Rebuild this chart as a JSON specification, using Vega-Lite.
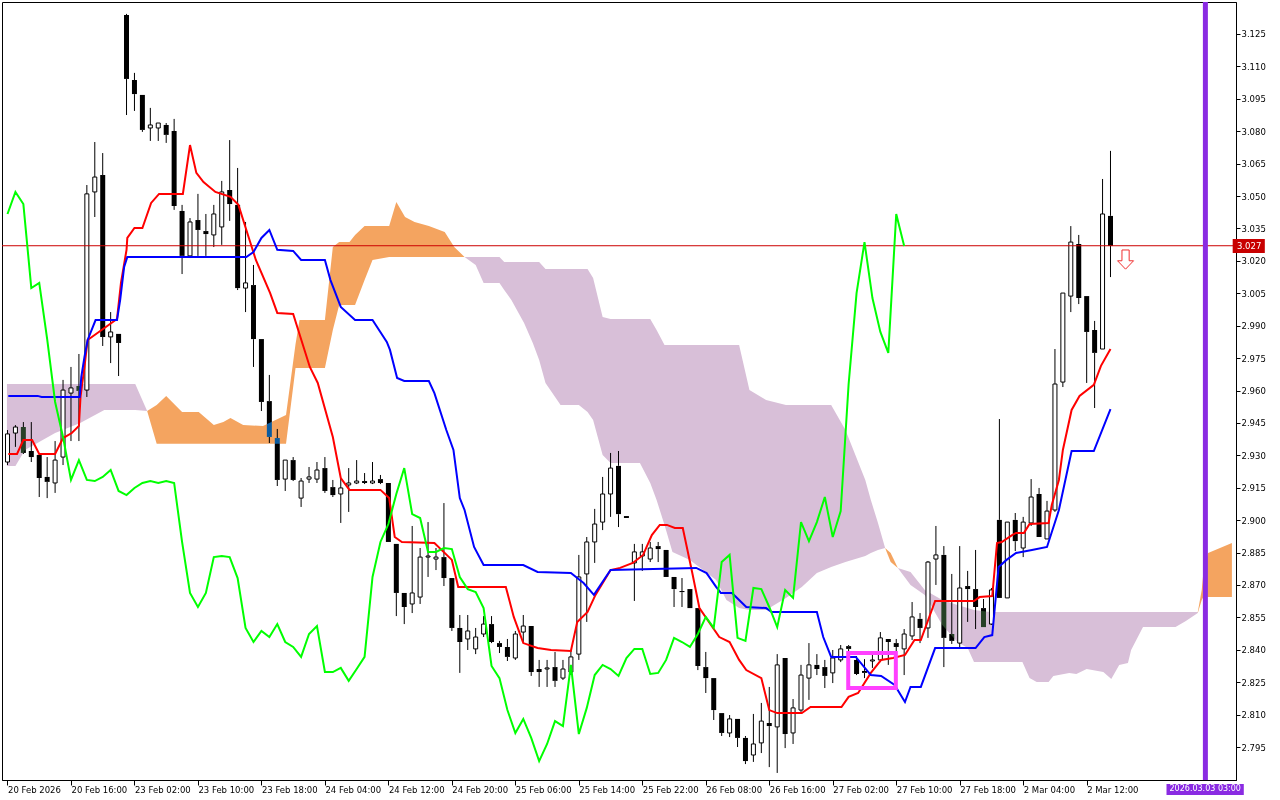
{
"$schema":"https://vega.github.io/schema/vega-lite/v6.json",
"width":1234,"height":778,
"autosize":{"type":"none"},
"padding":{"left":2,"top":2,"right":44,"bottom":20},
"background":"white",
"config":{"view":{"stroke":"#000000","fill":"#FFFFFF","strokeWidth":1},"font":"DejaVu Sans","axis":{"labelOverlap":false,"labelFlush":false,"labelBound":false,"grid":false}},
"datasets":{
"candles":[
{"k":0,"o":2.9269,"h":2.9417,"l":2.9255,"c":2.9399,"ch":3.0417},
{"k":1,"o":2.9403,"h":2.9440,"l":2.9339,"c":2.9431,"ch":3.0519},
{"k":2,"o":2.9431,"h":2.9454,"l":2.9306,"c":2.9311,"ch":3.0463},
{"k":3,"o":2.9320,"h":2.9454,"l":2.9269,"c":2.9292,"ch":3.0074},
{"k":4,"o":2.9302,"h":2.9302,"l":2.9107,"c":2.9195,"ch":3.0098},
{"k":5,"o":2.9200,"h":2.9292,"l":2.9102,"c":2.9177,"ch":2.9838},
{"k":6,"o":2.9172,"h":2.9366,"l":2.9126,"c":2.9278,"ch":2.9547},
{"k":7,"o":2.9292,"h":2.9649,"l":2.9255,"c":2.9602,"ch":2.9385},
{"k":8,"o":2.9588,"h":2.9709,"l":2.9366,"c":2.9612,"ch":2.9186},
{"k":9,"o":2.9621,"h":2.9769,"l":2.9366,"c":2.9598,"ch":2.9278},
{"k":10,"o":2.9602,"h":3.0551,"l":2.9570,"c":3.0510,"ch":2.9186},
{"k":11,"o":3.0519,"h":3.0750,"l":3.0403,"c":3.0588,"ch":2.9181},
{"k":12,"o":3.0597,"h":3.0699,"l":2.9806,"c":2.9848,"ch":2.9200},
{"k":13,"o":2.9848,"h":2.9963,"l":2.9727,"c":2.9871,"ch":2.9232},
{"k":14,"o":2.9862,"h":2.9862,"l":2.9667,"c":2.9820,"ch":2.9135},
{"k":15,"o":3.1338,"h":3.1343,"l":3.0875,"c":3.1042,"ch":2.9116},
{"k":16,"o":3.1037,"h":3.1070,"l":3.0894,"c":3.0972,"ch":2.9149},
{"k":17,"o":3.0968,"h":3.0968,"l":3.0797,"c":3.0806,"ch":2.9172},
{"k":18,"o":3.0815,"h":3.0908,"l":3.0755,"c":3.0829,"ch":2.9181},
{"k":19,"o":3.0815,"h":3.0838,"l":3.0755,"c":3.0838,"ch":2.9172},
{"k":20,"o":3.0829,"h":3.0838,"l":3.0746,"c":3.0783,"ch":2.9181},
{"k":21,"o":3.0801,"h":3.0857,"l":3.0436,"c":3.0454,"ch":2.9172},
{"k":22,"o":3.0431,"h":3.0459,"l":3.0139,"c":3.0223,"ch":2.8899},
{"k":23,"o":3.0223,"h":3.0398,"l":3.0213,"c":3.0380,"ch":2.8663},
{"k":24,"o":3.0389,"h":3.0510,"l":3.0223,"c":3.0343,"ch":2.8598},
{"k":25,"o":3.0338,"h":3.0417,"l":3.0223,"c":3.0324,"ch":2.8663},
{"k":26,"o":3.0320,"h":3.0459,"l":3.0264,"c":3.0417,"ch":2.8829},
{"k":27,"o":3.0357,"h":3.0570,"l":3.0274,"c":3.0519,"ch":2.8834},
{"k":28,"o":3.0528,"h":3.0759,"l":3.0385,"c":3.0463,"ch":2.8829},
{"k":29,"o":3.0459,"h":3.0630,"l":3.0065,"c":3.0074,"ch":2.8732},
{"k":30,"o":3.0074,"h":3.0380,"l":2.9963,"c":3.0098,"ch":2.8501},
{"k":31,"o":3.0088,"h":3.0181,"l":2.9709,"c":2.9838,"ch":2.8436},
{"k":32,"o":2.9838,"h":2.9838,"l":2.9505,"c":2.9547,"ch":2.8487},
{"k":33,"o":2.9551,"h":2.9672,"l":2.9357,"c":2.9385,"ch":2.8459},
{"k":34,"o":2.9380,"h":2.9422,"l":2.9158,"c":2.9186,"ch":2.8519},
{"k":35,"o":2.9190,"h":2.9278,"l":2.9135,"c":2.9278,"ch":2.8436},
{"k":36,"o":2.9278,"h":2.9292,"l":2.9181,"c":2.9186,"ch":2.8413},
{"k":37,"o":2.9102,"h":2.9195,"l":2.9061,"c":2.9181,"ch":2.8367},
{"k":38,"o":2.9190,"h":2.9246,"l":2.9172,"c":2.9200,"ch":2.8473},
{"k":39,"o":2.9190,"h":2.9269,"l":2.9172,"c":2.9232,"ch":2.8510},
{"k":40,"o":2.9241,"h":2.9292,"l":2.9126,"c":2.9135,"ch":2.8297},
{"k":41,"o":2.9153,"h":2.9186,"l":2.9107,"c":2.9116,"ch":2.8297},
{"k":42,"o":2.9121,"h":2.9195,"l":2.8987,"c":2.9149,"ch":2.8316},
{"k":43,"o":2.9163,"h":2.9241,"l":2.9038,"c":2.9172,"ch":2.8256},
{"k":44,"o":2.9172,"h":2.9278,"l":2.9167,"c":2.9181,"ch":2.8311},
{"k":45,"o":2.9181,"h":2.9218,"l":2.9167,"c":2.9172,"ch":2.8367},
{"k":46,"o":2.9172,"h":2.9269,"l":2.9167,"c":2.9181,"ch":2.8737},
{"k":47,"o":2.9190,"h":2.9209,"l":2.9167,"c":2.9172,"ch":2.8899},
{"k":48,"o":2.9172,"h":2.9172,"l":2.8899,"c":2.8899,"ch":2.8982},
{"k":49,"o":2.8890,"h":2.8890,"l":2.8556,"c":2.8663,"ch":2.9121},
{"k":50,"o":2.8663,"h":2.8663,"l":2.8519,"c":2.8598,"ch":2.9241},
{"k":51,"o":2.8612,"h":2.8973,"l":2.8570,"c":2.8663,"ch":2.9028},
{"k":52,"o":2.8644,"h":2.8871,"l":2.8612,"c":2.8829,"ch":2.9010},
{"k":53,"o":2.8829,"h":2.8991,"l":2.8737,"c":2.8834,"ch":2.8853},
{"k":54,"o":2.8820,"h":2.8871,"l":2.8769,"c":2.8829,"ch":2.8853},
{"k":55,"o":2.8829,"h":2.9079,"l":2.8695,"c":2.8732,"ch":2.8871},
{"k":56,"o":2.8732,"h":2.8732,"l":2.8487,"c":2.8501,"ch":2.8866},
{"k":57,"o":2.8501,"h":2.8561,"l":2.8293,"c":2.8436,"ch":2.8737},
{"k":58,"o":2.8450,"h":2.8561,"l":2.8399,"c":2.8487,"ch":2.8681},
{"k":59,"o":2.8404,"h":2.8501,"l":2.8380,"c":2.8459,"ch":2.8667},
{"k":60,"o":2.8473,"h":2.8556,"l":2.8459,"c":2.8519,"ch":2.8593},
{"k":61,"o":2.8519,"h":2.8556,"l":2.8431,"c":2.8436,"ch":2.8325},
{"k":62,"o":2.8431,"h":2.8441,"l":2.8385,"c":2.8413,"ch":2.8269},
{"k":63,"o":2.8413,"h":2.8450,"l":2.8348,"c":2.8367,"ch":2.8121},
{"k":64,"o":2.8362,"h":2.8487,"l":2.8353,"c":2.8473,"ch":2.8015},
{"k":65,"o":2.8482,"h":2.8561,"l":2.8436,"c":2.8510,"ch":2.8080},
{"k":66,"o":2.8510,"h":2.8510,"l":2.8279,"c":2.8297,"ch":2.7992},
{"k":67,"o":2.8311,"h":2.8353,"l":2.8228,"c":2.8297,"ch":2.7885},
{"k":68,"o":2.8311,"h":2.8353,"l":2.8228,"c":2.8316,"ch":2.7964},
{"k":69,"o":2.8320,"h":2.8390,"l":2.8228,"c":2.8256,"ch":2.8070},
{"k":70,"o":2.8269,"h":2.8353,"l":2.8260,"c":2.8311,"ch":2.8047},
{"k":71,"o":2.8297,"h":2.8399,"l":2.8283,"c":2.8367,"ch":2.8330},
{"k":72,"o":2.8380,"h":2.8839,"l":2.8353,"c":2.8737,"ch":2.8010},
{"k":73,"o":2.8751,"h":2.8922,"l":2.8529,"c":2.8899,"ch":2.8131},
{"k":74,"o":2.8899,"h":2.9052,"l":2.8802,"c":2.8982,"ch":2.8283},
{"k":75,"o":2.8991,"h":2.9200,"l":2.8954,"c":2.9121,"ch":2.8330},
{"k":76,"o":2.9121,"h":2.9311,"l":2.9015,"c":2.9241,"ch":2.8311},
{"k":77,"o":2.9251,"h":2.9320,"l":2.8968,"c":2.9028,"ch":2.8279},
{"k":78,"o":2.9019,"h":2.9019,"l":2.9010,"c":2.9010,"ch":2.8362},
{"k":79,"o":2.8802,"h":2.8890,"l":2.8626,"c":2.8853,"ch":2.8404},
{"k":80,"o":2.8834,"h":2.8890,"l":2.8765,"c":2.8853,"ch":2.8404},
{"k":81,"o":2.8820,"h":2.8899,"l":2.8806,"c":2.8871,"ch":2.8288},
{"k":82,"o":2.8880,"h":2.8899,"l":2.8806,"c":2.8866,"ch":2.8293},
{"k":83,"o":2.8862,"h":2.8862,"l":2.8737,"c":2.8737,"ch":2.8353},
{"k":84,"o":2.8737,"h":2.8737,"l":2.8598,"c":2.8681,"ch":2.8455},
{"k":85,"o":2.8672,"h":2.8732,"l":2.8598,"c":2.8667,"ch":2.8436},
{"k":86,"o":2.8681,"h":2.8681,"l":2.8593,"c":2.8593,"ch":2.8413},
{"k":87,"o":2.8593,"h":2.8593,"l":2.8306,"c":2.8325,"ch":2.8473},
{"k":88,"o":2.8320,"h":2.8390,"l":2.8200,"c":2.8269,"ch":2.8552},
{"k":89,"o":2.8269,"h":2.8269,"l":2.8075,"c":2.8121,"ch":2.8501},
{"k":90,"o":2.8107,"h":2.8107,"l":2.8001,"c":2.8015,"ch":2.8806},
{"k":91,"o":2.8015,"h":2.8098,"l":2.7996,"c":2.8080,"ch":2.8839},
{"k":92,"o":2.8080,"h":2.8080,"l":2.7950,"c":2.7992,"ch":2.8455},
{"k":93,"o":2.7992,"h":2.8001,"l":2.7871,"c":2.7885,"ch":2.8441},
{"k":94,"o":2.7913,"h":2.8103,"l":2.7881,"c":2.7964,"ch":2.8686},
{"k":95,"o":2.7969,"h":2.8154,"l":2.7922,"c":2.8070,"ch":2.8681},
{"k":96,"o":2.8061,"h":2.8228,"l":2.7857,"c":2.8047,"ch":2.8598},
{"k":97,"o":2.8043,"h":2.8380,"l":2.7830,"c":2.8330,"ch":2.8505},
{"k":98,"o":2.8362,"h":2.8362,"l":2.7945,"c":2.8010,"ch":2.8677},
{"k":99,"o":2.8015,"h":2.8172,"l":2.7964,"c":2.8131,"ch":2.8640},
{"k":100,"o":2.8121,"h":2.8330,"l":2.8112,"c":2.8283,"ch":2.8991},
{"k":101,"o":2.8269,"h":2.8431,"l":2.8168,"c":2.8330,"ch":2.8903},
{"k":102,"o":2.8330,"h":2.8380,"l":2.8283,"c":2.8311,"ch":2.8991},
{"k":103,"o":2.8320,"h":2.8353,"l":2.8223,"c":2.8279,"ch":2.9107},
{"k":104,"o":2.8293,"h":2.8399,"l":2.8246,"c":2.8362,"ch":2.8922},
{"k":105,"o":2.8353,"h":2.8422,"l":2.8343,"c":2.8404,"ch":2.9042},
{"k":106,"o":2.8417,"h":2.8422,"l":2.8390,"c":2.8404,"ch":2.9630},
{"k":107,"o":2.8353,"h":2.8371,"l":2.8283,"c":2.8288,"ch":3.0051},
{"k":108,"o":2.8302,"h":2.8357,"l":2.8269,"c":2.8293,"ch":3.0287},
{"k":109,"o":2.8348,"h":2.8376,"l":2.8316,"c":2.8353,"ch":3.0028},
{"k":110,"o":2.8353,"h":2.8482,"l":2.8343,"c":2.8455,"ch":2.9871},
{"k":111,"o":2.8450,"h":2.8450,"l":2.8330,"c":2.8436,"ch":2.9774},
{"k":112,"o":2.8431,"h":2.8450,"l":2.8367,"c":2.8413,"ch":3.0417},
{"k":113,"o":2.8404,"h":2.8496,"l":2.8283,"c":2.8473,"ch":3.0269},
{"k":114,"o":2.8464,"h":2.8621,"l":2.8445,"c":2.8552},
{"k":115,"o":2.8543,"h":2.8570,"l":2.8431,"c":2.8501},
{"k":116,"o":2.8501,"h":2.8811,"l":2.8455,"c":2.8806},
{"k":117,"o":2.8820,"h":2.8973,"l":2.8700,"c":2.8839},
{"k":118,"o":2.8839,"h":2.8880,"l":2.8320,"c":2.8455},
{"k":119,"o":2.8473,"h":2.8751,"l":2.8427,"c":2.8441},
{"k":120,"o":2.8431,"h":2.8880,"l":2.8408,"c":2.8686},
{"k":121,"o":2.8695,"h":2.8765,"l":2.8529,"c":2.8681},
{"k":122,"o":2.8681,"h":2.8862,"l":2.8496,"c":2.8598},
{"k":123,"o":2.8593,"h":2.8635,"l":2.8505,"c":2.8505},
{"k":124,"o":2.8519,"h":2.8686,"l":2.8515,"c":2.8677},
{"k":125,"o":2.9001,"h":2.9468,"l":2.8640,"c":2.8640},
{"k":126,"o":2.8640,"h":2.8991,"l":2.8640,"c":2.8991},
{"k":127,"o":2.9001,"h":2.9033,"l":2.8857,"c":2.8903},
{"k":128,"o":2.8871,"h":2.9015,"l":2.8829,"c":2.8991},
{"k":129,"o":2.8987,"h":2.9190,"l":2.8973,"c":2.9107},
{"k":130,"o":2.9121,"h":2.9149,"l":2.8922,"c":2.8922},
{"k":131,"o":2.8913,"h":2.9089,"l":2.8913,"c":2.9042},
{"k":132,"o":2.9047,"h":2.9792,"l":2.9038,"c":2.9630},
{"k":133,"o":2.9639,"h":3.0051,"l":2.9616,"c":3.0051},
{"k":134,"o":3.0037,"h":3.0361,"l":2.9963,"c":3.0287},
{"k":135,"o":3.0278,"h":3.0320,"l":3.0000,"c":3.0028},
{"k":136,"o":3.0037,"h":3.0037,"l":2.9635,"c":2.9871},
{"k":137,"o":2.9880,"h":2.9922,"l":2.9519,"c":2.9774},
{"k":138,"o":2.9792,"h":3.0579,"l":2.9792,"c":3.0417},
{"k":139,"o":3.0408,"h":3.0709,"l":3.0125,"c":3.0269}
],
"tenkan":[
{"k":0.1,"v":2.9306},{"k":1.2,"v":2.9306},{"k":2.0,"v":2.9371},{"k":3.1,"v":2.9371},{"k":4.0,"v":2.9306},{"k":6.0,"v":2.9306},{"k":7.0,"v":2.9380},{"k":8.1,"v":2.9403},{"k":9.0,"v":2.9436},{"k":9.2,"v":2.9570},{"k":9.7,"v":2.9709},{"k":10.1,"v":2.9834},{"k":13.8,"v":2.9931},{"k":14.3,"v":3.0098},{"k":15.0,"v":3.0251},{"k":15.1,"v":3.0306},{"k":16.0,"v":3.0352},{"k":17.0,"v":3.0352},{"k":18.1,"v":3.0468},{"k":19.1,"v":3.0510},{"k":22.1,"v":3.0510},{"k":23.0,"v":3.0736},{"k":23.8,"v":3.0607},{"k":24.7,"v":3.0565},{"k":26.2,"v":3.0519},{"k":28.1,"v":3.0496},{"k":29.1,"v":3.0459},{"k":30.1,"v":3.0343},{"k":31.3,"v":3.0204},{"k":33.1,"v":3.0051},{"k":34.0,"v":2.9959},{"k":36.0,"v":2.9954},{"k":38.1,"v":2.9709},{"k":39.1,"v":2.9635},{"k":41.0,"v":2.9385},{"k":42.0,"v":2.9195},{"k":43.1,"v":2.9140},{"k":47.0,"v":2.9140},{"k":48.1,"v":2.9102},{"k":48.8,"v":2.8922},{"k":49.7,"v":2.8899},{"k":53.8,"v":2.8894},{"k":56.0,"v":2.8816},{"k":56.8,"v":2.8691},{"k":62.8,"v":2.8691},{"k":63.8,"v":2.8552},{"k":65.0,"v":2.8431},{"k":66.8,"v":2.8408},{"k":68.5,"v":2.8399},{"k":71.0,"v":2.8394},{"k":71.8,"v":2.8529},{"k":73.1,"v":2.8575},{"k":74.1,"v":2.8654},{"k":76.0,"v":2.8769},{"k":77.2,"v":2.8779},{"k":78.8,"v":2.8802},{"k":80.1,"v":2.8839},{"k":81.2,"v":2.8931},{"k":82.2,"v":2.8978},{"k":83.1,"v":2.8978},{"k":84.1,"v":2.8964},{"k":85.1,"v":2.8964},{"k":86.3,"v":2.8755},{"k":87.2,"v":2.8593},{"k":89.7,"v":2.8459},{"k":91.0,"v":2.8436},{"k":92.2,"v":2.8353},{"k":93.1,"v":2.8306},{"k":95.0,"v":2.8269},{"k":96.0,"v":2.8121},{"k":97.0,"v":2.8107},{"k":100.1,"v":2.8107},{"k":101.2,"v":2.8135},{"k":105.1,"v":2.8135},{"k":106.0,"v":2.8182},{"k":107.2,"v":2.8200},{"k":108.8,"v":2.8293},{"k":110.1,"v":2.8353},{"k":111.6,"v":2.8362},{"k":113.1,"v":2.8376},{"k":114.3,"v":2.8445},{"k":115.1,"v":2.8445},{"k":116.9,"v":2.8626},{"k":121.8,"v":2.8626},{"k":122.5,"v":2.8644},{"k":124.1,"v":2.8649},{"k":124.7,"v":2.8894},{"k":125.3,"v":2.8899},{"k":126.6,"v":2.8931},{"k":127.1,"v":2.8941},{"k":128.1,"v":2.8941},{"k":128.8,"v":2.8982},{"k":131.2,"v":2.8987},{"k":131.6,"v":2.9070},{"k":132.5,"v":2.9186},{"k":133.0,"v":2.9325},{"k":134.1,"v":2.9510},{"k":135.1,"v":2.9575},{"k":136.9,"v":2.9626},{"k":137.8,"v":2.9714},{"k":139.0,"v":2.9792}
],
"kijun":[
{"k":0.1,"v":2.9575},{"k":3.8,"v":2.9575},{"k":4.3,"v":2.9570},{"k":9.1,"v":2.9570},{"k":9.3,"v":2.9663},{"k":9.7,"v":2.9755},{"k":10.1,"v":2.9834},{"k":11.1,"v":2.9926},{"k":13.8,"v":2.9926},{"k":14.2,"v":3.0019},{"k":14.7,"v":3.0172},{"k":15.1,"v":3.0218},{"k":30.1,"v":3.0218},{"k":31.0,"v":3.0241},{"k":32.0,"v":3.0306},{"k":33.0,"v":3.0343},{"k":34.0,"v":3.0251},{"k":36.0,"v":3.0246},{"k":37.0,"v":3.0204},{"k":40.0,"v":3.0204},{"k":40.7,"v":3.0111},{"k":42.0,"v":2.9987},{"k":43.8,"v":2.9926},{"k":46.0,"v":2.9926},{"k":47.8,"v":2.9825},{"k":48.2,"v":2.9788},{"k":49.1,"v":2.9658},{"k":50.0,"v":2.9644},{"k":53.1,"v":2.9644},{"k":53.8,"v":2.9588},{"k":55.3,"v":2.9417},{"k":56.2,"v":2.9325},{"k":57.0,"v":2.9102},{"k":57.6,"v":2.9047},{"k":58.8,"v":2.8876},{"k":60.0,"v":2.8792},{"k":65.0,"v":2.8792},{"k":66.8,"v":2.8760},{"k":71.0,"v":2.8755},{"k":72.6,"v":2.8709},{"k":73.9,"v":2.8654},{"k":76.0,"v":2.8769},{"k":86.8,"v":2.8779},{"k":88.1,"v":2.8755},{"k":89.3,"v":2.8691},{"k":89.9,"v":2.8663},{"k":91.3,"v":2.8663},{"k":93.1,"v":2.8598},{"k":95.6,"v":2.8593},{"k":96.3,"v":2.8575},{"k":102.0,"v":2.8575},{"k":102.8,"v":2.8459},{"k":103.8,"v":2.8367},{"k":106.9,"v":2.8367},{"k":108.8,"v":2.8283},{"k":110.1,"v":2.8279},{"k":111.8,"v":2.8237},{"k":113.1,"v":2.8158},{"k":113.8,"v":2.8228},{"k":115.1,"v":2.8228},{"k":116.9,"v":2.8408},{"k":122.0,"v":2.8408},{"k":123.1,"v":2.8459},{"k":124.1,"v":2.8468},{"k":124.9,"v":2.8783},{"k":125.9,"v":2.8816},{"k":127.1,"v":2.8848},{"k":129.1,"v":2.8862},{"k":131.0,"v":2.8876},{"k":132.5,"v":2.9047},{"k":134.1,"v":2.9320},{"k":136.9,"v":2.9320},{"k":139.0,"v":2.9514}
],
"cloud":[
{"s":"P1","c":"B","k":-0.07,"t":2.9630,"b":2.9251},{"s":"P1","c":"B","k":1.0,"t":2.9630,"b":2.9251},{"s":"P1","c":"B","k":2.2,"t":2.9630,"b":2.9325},{"s":"P1","c":"B","k":6.0,"t":2.9630,"b":2.9403},{"s":"P1","c":"B","k":9.1,"t":2.9630,"b":2.9449},{"s":"P1","c":"B","k":12.2,"t":2.9630,"b":2.9510},{"s":"P1","c":"B","k":16.1,"t":2.9630,"b":2.9510},{"s":"P1","c":"B","k":17.6,"t":2.9505,"b":2.9505},
{"s":"O1","c":"A","k":17.6,"t":2.9505,"b":2.9505},{"s":"O1","c":"A","k":18.8,"t":2.9533,"b":2.9353},{"s":"O1","c":"A","k":20.0,"t":2.9575,"b":2.9353},{"s":"O1","c":"A","k":22.0,"t":2.9500,"b":2.9353},{"s":"O1","c":"A","k":24.1,"t":2.9500,"b":2.9353},{"s":"O1","c":"A","k":26.0,"t":2.9440,"b":2.9353},{"s":"O1","c":"A","k":27.2,"t":2.9454,"b":2.9353},{"s":"O1","c":"A","k":28.1,"t":2.9473,"b":2.9353},{"s":"O1","c":"A","k":29.7,"t":2.9440,"b":2.9353},{"s":"O1","c":"A","k":32.2,"t":2.9436,"b":2.9353},{"s":"O1","c":"A","k":35.1,"t":2.9487,"b":2.9353},{"s":"O1","c":"A","k":36.3,"t":2.9815,"b":2.9704},{"s":"O1","c":"A","k":36.8,"t":2.9926,"b":2.9704},{"s":"O1","c":"A","k":40.0,"t":2.9926,"b":2.9704},{"s":"O1","c":"A","k":41.0,"t":3.0264,"b":2.9880},{"s":"O1","c":"A","k":41.8,"t":3.0287,"b":2.9996},{"s":"O1","c":"A","k":43.1,"t":3.0287,"b":2.9996},{"s":"O1","c":"A","k":43.8,"t":3.0320,"b":2.9996},{"s":"O1","c":"A","k":45.0,"t":3.0361,"b":3.0111},{"s":"O1","c":"A","k":46.0,"t":3.0361,"b":3.0204},{"s":"O1","c":"A","k":48.1,"t":3.0361,"b":3.0218},{"s":"O1","c":"A","k":49.0,"t":3.0472,"b":3.0218},{"s":"O1","c":"A","k":50.1,"t":3.0403,"b":3.0218},{"s":"O1","c":"A","k":51.3,"t":3.0380,"b":3.0218},{"s":"O1","c":"A","k":53.1,"t":3.0361,"b":3.0218},{"s":"O1","c":"A","k":55.1,"t":3.0334,"b":3.0218},{"s":"O1","c":"A","k":56.3,"t":3.0264,"b":3.0218},{"s":"O1","c":"A","k":57.6,"t":3.0218,"b":3.0218},
{"s":"P2","c":"B","k":57.6,"t":3.0218,"b":3.0218},{"s":"P2","c":"B","k":59.0,"t":3.0218,"b":3.0181},{"s":"P2","c":"B","k":60.0,"t":3.0218,"b":3.0098},{"s":"P2","c":"B","k":62.0,"t":3.0218,"b":3.0098},{"s":"P2","c":"B","k":62.6,"t":3.0195,"b":3.0065},{"s":"P2","c":"B","k":63.5,"t":3.0195,"b":3.0019},{"s":"P2","c":"B","k":65.1,"t":3.0195,"b":2.9912},{"s":"P2","c":"B","k":66.2,"t":3.0195,"b":2.9820},{"s":"P2","c":"B","k":67.0,"t":3.0195,"b":2.9741},{"s":"P2","c":"B","k":67.8,"t":3.0162,"b":2.9635},{"s":"P2","c":"B","k":69.7,"t":3.0162,"b":2.9533},{"s":"P2","c":"B","k":72.0,"t":3.0162,"b":2.9533},{"s":"P2","c":"B","k":73.1,"t":3.0162,"b":2.9500},{"s":"P2","c":"B","k":73.8,"t":3.0121,"b":2.9463},{"s":"P2","c":"B","k":75.0,"t":2.9940,"b":2.9302},{"s":"P2","c":"B","k":76.0,"t":2.9931,"b":2.9264},{"s":"P2","c":"B","k":79.7,"t":2.9931,"b":2.9264},{"s":"P2","c":"B","k":81.0,"t":2.9931,"b":2.9172},{"s":"P2","c":"B","k":81.8,"t":2.9880,"b":2.9093},{"s":"P2","c":"B","k":82.8,"t":2.9811,"b":2.8978},{"s":"P2","c":"B","k":83.8,"t":2.9811,"b":2.8853},{"s":"P2","c":"B","k":86.0,"t":2.9811,"b":2.8816},{"s":"P2","c":"B","k":89.3,"t":2.9811,"b":2.8723},{"s":"P2","c":"B","k":90.6,"t":2.9811,"b":2.8630},{"s":"P2","c":"B","k":92.2,"t":2.9811,"b":2.8593},{"s":"P2","c":"B","k":93.5,"t":2.9602,"b":2.8584},{"s":"P2","c":"B","k":95.6,"t":2.9556,"b":2.8584},{"s":"P2","c":"B","k":98.1,"t":2.9533,"b":2.8640},{"s":"P2","c":"B","k":100.1,"t":2.9533,"b":2.8691},{"s":"P2","c":"B","k":102.0,"t":2.9533,"b":2.8755},{"s":"P2","c":"B","k":103.8,"t":2.9533,"b":2.8783},{"s":"P2","c":"B","k":105.6,"t":2.9417,"b":2.8806},{"s":"P2","c":"B","k":108.1,"t":2.9186,"b":2.8834},{"s":"P2","c":"B","k":108.8,"t":2.9093,"b":2.8848},{"s":"P2","c":"B","k":109.7,"t":2.8987,"b":2.8862},{"s":"P2","c":"B","k":110.6,"t":2.8871,"b":2.8871},
{"s":"O2","c":"A","k":110.6,"t":2.8871,"b":2.8871},{"s":"O2","c":"A","k":111.3,"t":2.8848,"b":2.8806},{"s":"O2","c":"A","k":112.2,"t":2.8779,"b":2.8779},
{"s":"P3","c":"B","k":112.2,"t":2.8779,"b":2.8779},{"s":"P3","c":"B","k":113.8,"t":2.8760,"b":2.8700},{"s":"P3","c":"B","k":115.6,"t":2.8677,"b":2.8654},{"s":"P3","c":"B","k":117.8,"t":2.8630,"b":2.8515},{"s":"P3","c":"B","k":119.7,"t":2.8607,"b":2.8436},{"s":"P3","c":"B","k":121.0,"t":2.8593,"b":2.8408},{"s":"P3","c":"B","k":121.8,"t":2.8584,"b":2.8343},{"s":"P3","c":"B","k":123.8,"t":2.8575,"b":2.8343},{"s":"P3","c":"B","k":127.9,"t":2.8575,"b":2.8343},{"s":"P3","c":"B","k":128.8,"t":2.8575,"b":2.8269},{"s":"P3","c":"B","k":129.7,"t":2.8575,"b":2.8251},{"s":"P3","c":"B","k":131.2,"t":2.8575,"b":2.8251},{"s":"P3","c":"B","k":131.8,"t":2.8575,"b":2.8279},{"s":"P3","c":"B","k":133.8,"t":2.8575,"b":2.8293},{"s":"P3","c":"B","k":134.7,"t":2.8575,"b":2.8288},{"s":"P3","c":"B","k":136.0,"t":2.8575,"b":2.8311},{"s":"P3","c":"B","k":138.1,"t":2.8575,"b":2.8297},{"s":"P3","c":"B","k":139.1,"t":2.8575,"b":2.8265},{"s":"P3","c":"B","k":140.1,"t":2.8575,"b":2.8330},{"s":"P3","c":"B","k":141.2,"t":2.8575,"b":2.8339},{"s":"P3","c":"B","k":141.6,"t":2.8575,"b":2.8399},{"s":"P3","c":"B","k":143.1,"t":2.8575,"b":2.8505},{"s":"P3","c":"B","k":147.2,"t":2.8575,"b":2.8505},{"s":"P3","c":"B","k":148.5,"t":2.8575,"b":2.8533},{"s":"P3","c":"B","k":150.0,"t":2.8575,"b":2.8570},
{"s":"O3","c":"A","k":150.0,"t":2.8575,"b":2.8570},{"s":"O3","c":"A","k":150.5,"t":2.8677,"b":2.8630},{"s":"O3","c":"A","k":150.7,"t":2.8755,"b":2.8644},{"s":"O3","c":"A","k":151.3,"t":2.8848,"b":2.8644},{"s":"O3","c":"A","k":152.8,"t":2.8871,"b":2.8644},{"s":"O3","c":"A","k":154.3,"t":2.8894,"b":2.8644}
]
},
"layer":[
{"data":{"name":"cloud"},
 "mark":{"type":"area","clip":true,"strokeWidth":0,"opacity":1},
 "encoding":{
  "x":{"field":"k","type":"quantitative","title":null,"scale":{"domain":[-0.0625,154.1875],"nice":false,"zero":false},
   "axis":{"orient":"bottom","values":[0,8,16,24,32,40,48,56,64,72,80,88,96,104,112,120,128,136],"tickCount":40,
    "labelExpr":"['20 Feb 2026','20 Feb 16:00','23 Feb 02:00','23 Feb 10:00','23 Feb 18:00','24 Feb 04:00','24 Feb 12:00','24 Feb 20:00','25 Feb 06:00','25 Feb 14:00','25 Feb 22:00','26 Feb 08:00','26 Feb 16:00','27 Feb 02:00','27 Feb 10:00','27 Feb 18:00','2 Mar 04:00','2 Mar 12:00'][round(datum.value/8)]",
    "labelAlign":"left","labelBaseline":"top","labelPadding":0,"tickSize":5,"tickColor":"#000000","domainColor":"#000000","labelColor":"#000000","labelFont":"DejaVu Sans","labelFontSize":8.5,"grid":false,"title":null,"labelOverlap":false,"labelFlush":false,"labelBound":false}},
  "y":{"field":"t","type":"quantitative","title":null,"stack":null,"scale":{"domain":[2.77973,3.13981],"nice":false,"zero":false},
   "axis":{"orient":"right","values":[2.795,2.81,2.825,2.84,2.855,2.87,2.885,2.9,2.915,2.93,2.945,2.96,2.975,2.99,3.005,3.02,3.035,3.05,3.065,3.08,3.095,3.11,3.125],"tickCount":40,
    "format":".3f","tickSize":4,"labelPadding":1,"tickColor":"#000000","domainColor":"#000000","labelColor":"#000000","labelFont":"DejaVu Sans","labelFontSize":8.5,"grid":false,"title":null,"labelOverlap":false,"labelFlush":false,"labelBound":false}},
  "y2":{"field":"b"},
  "color":{"field":"c","type":"nominal","scale":{"domain":["A","B"],"range":["#F4A460","#D8BFD8"]},"legend":null},
  "detail":{"field":"s","type":"nominal"}}},
{"data":{"name":"candles"},"transform":[{"filter":"datum.c >= datum.o"}],
 "mark":{"type":"rule","color":"#000000","strokeWidth":1,"clip":true},
 "encoding":{"x":{"field":"k","type":"quantitative","title":null,"scale":{"domain":[-0.0625,154.1875],"nice":false,"zero":false}},
  "y":{"field":"l","type":"quantitative","title":null,"scale":{"domain":[2.77973,3.13981],"nice":false,"zero":false}},"y2":{"field":"h"}}},
{"data":{"name":"candles"},"transform":[{"filter":"datum.c < datum.o"}],
 "mark":{"type":"rule","color":"#000000","strokeWidth":1,"clip":true},
 "encoding":{"x":{"field":"k","type":"quantitative","title":null,"scale":{"domain":[-0.0625,154.1875],"nice":false,"zero":false}},
  "y":{"field":"o","type":"quantitative","title":null,"scale":{"domain":[2.77973,3.13981],"nice":false,"zero":false}},"y2":{"field":"h"}}},
{"data":{"name":"candles"},"transform":[{"filter":"datum.c < datum.o"}],
 "mark":{"type":"rule","color":"#000000","strokeWidth":1,"clip":true},
 "encoding":{"x":{"field":"k","type":"quantitative","title":null,"scale":{"domain":[-0.0625,154.1875],"nice":false,"zero":false}},
  "y":{"field":"l","type":"quantitative","title":null,"scale":{"domain":[2.77973,3.13981],"nice":false,"zero":false}},"y2":{"field":"c"}}},
{"data":{"name":"candles"},"transform":[{"filter":"datum.c >= datum.o"}],
 "mark":{"type":"bar","width":4,"fill":"#FFFFFF","stroke":"#000000","strokeWidth":1,"clip":true},
 "encoding":{"x":{"field":"k","type":"quantitative","title":null,"scale":{"domain":[-0.0625,154.1875],"nice":false,"zero":false}},
  "y":{"field":"o","type":"quantitative","title":null,"scale":{"domain":[2.77973,3.13981],"nice":false,"zero":false}},"y2":{"field":"c"}}},
{"data":{"name":"candles"},"transform":[{"filter":"datum.c < datum.o"}],
 "mark":{"type":"bar","width":5,"fill":"#FFFFFF","strokeWidth":0,"blend":"difference"},
 "encoding":{"x":{"field":"k","type":"quantitative","title":null,"scale":{"domain":[-0.0625,154.1875],"nice":false,"zero":false}},
  "y":{"field":"o","type":"quantitative","title":null,"scale":{"domain":[2.77973,3.13981],"nice":false,"zero":false}},"y2":{"field":"c"}}},
{"data":{"values":[{}]},
 "mark":{"type":"rule","color":"#CC0000","strokeWidth":1},
 "encoding":{"y":{"datum":3.027,"type":"quantitative","scale":{"domain":[2.77973,3.13981],"nice":false,"zero":false}}}},
{"data":{"name":"tenkan"},
 "mark":{"type":"line","color":"#FF0000","strokeWidth":2,"clip":true},
 "encoding":{"x":{"field":"k","type":"quantitative","title":null,"scale":{"domain":[-0.0625,154.1875],"nice":false,"zero":false}},
  "y":{"field":"v","type":"quantitative","title":null,"scale":{"domain":[2.77973,3.13981],"nice":false,"zero":false}}}},
{"data":{"name":"kijun"},
 "mark":{"type":"line","color":"#0000FF","strokeWidth":2,"clip":true},
 "encoding":{"x":{"field":"k","type":"quantitative","title":null,"scale":{"domain":[-0.0625,154.1875],"nice":false,"zero":false}},
  "y":{"field":"v","type":"quantitative","title":null,"scale":{"domain":[2.77973,3.13981],"nice":false,"zero":false}}}},
{"data":{"name":"candles"},"transform":[{"filter":"isValid(datum.ch)"}],
 "mark":{"type":"line","color":"#00FF00","strokeWidth":2,"clip":true},
 "encoding":{"x":{"field":"k","type":"quantitative","title":null,"scale":{"domain":[-0.0625,154.1875],"nice":false,"zero":false}},
  "y":{"field":"ch","type":"quantitative","title":null,"scale":{"domain":[2.77973,3.13981],"nice":false,"zero":false}}}},
{"data":{"values":[{}]},
 "mark":{"type":"rect","filled":false,"stroke":"#FF40FF","strokeWidth":4},
 "encoding":{"x":{"datum":105.95,"type":"quantitative","scale":{"domain":[-0.0625,154.1875],"nice":false,"zero":false}},"x2":{"datum":111.95},
  "y":{"datum":2.8385,"type":"quantitative","scale":{"domain":[2.77973,3.13981],"nice":false,"zero":false}},"y2":{"datum":2.8223}}},
{"data":{"values":[{}]},
 "mark":{"type":"point","shape":"M-0.45,-1.2L0.45,-1.2L0.45,0.15L1,0.15L0,1.2L-1,0.15L-0.45,0.15Z","size":256,"filled":true,"fill":"#FFFFFF","stroke":"#F03030","strokeWidth":1,"opacity":1},
 "encoding":{"x":{"datum":140.9,"type":"quantitative","scale":{"domain":[-0.0625,154.1875],"nice":false,"zero":false}},
  "y":{"datum":3.0206,"type":"quantitative","scale":{"domain":[2.77973,3.13981],"nice":false,"zero":false}}}},
{"data":{"values":[{}]},
 "mark":{"type":"rule","color":"#8A2BE2","strokeWidth":5},
 "encoding":{"x":{"datum":150.96,"type":"quantitative","scale":{"domain":[-0.0625,154.1875],"nice":false,"zero":false}}}},
{"data":{"values":[{}]},
 "mark":{"type":"rect","fill":"#C80000"},
 "encoding":{"x":{"datum":154.4,"type":"quantitative","scale":{"domain":[-0.0625,154.1875],"nice":false,"zero":false}},"x2":{"datum":158.45},
  "y":{"datum":3.0301,"type":"quantitative","scale":{"domain":[2.77973,3.13981],"nice":false,"zero":false}},"y2":{"datum":3.0236}}},
{"data":{"values":[{"t":"3.027"}]},
 "mark":{"type":"text","align":"left","baseline":"middle","color":"#FFFFFF","font":"DejaVu Sans","fontSize":8.5},
 "encoding":{"x":{"datum":154.94,"type":"quantitative","scale":{"domain":[-0.0625,154.1875],"nice":false,"zero":false}},
  "y":{"datum":3.0269,"type":"quantitative","scale":{"domain":[2.77973,3.13981],"nice":false,"zero":false}},"text":{"field":"t"}}},
{"data":{"values":[{}]},
 "mark":{"type":"rect","fill":"#8A2BE2"},
 "encoding":{"x":{"datum":146.06,"type":"quantitative","scale":{"domain":[-0.0625,154.1875],"nice":false,"zero":false}},"x2":{"datum":155.8},
  "y":{"datum":2.7779,"type":"quantitative","scale":{"domain":[2.77973,3.13981],"nice":false,"zero":false}},"y2":{"datum":2.7728}}},
{"data":{"values":[{"t":"2026.03.03 03:00"}]},
 "mark":{"type":"text","align":"center","baseline":"middle","color":"#FFFFFF","font":"DejaVu Sans","fontSize":8},
 "encoding":{"x":{"datum":150.94,"type":"quantitative","scale":{"domain":[-0.0625,154.1875],"nice":false,"zero":false}},
  "y":{"datum":2.7754,"type":"quantitative","scale":{"domain":[2.77973,3.13981],"nice":false,"zero":false}},"text":{"field":"t"}}}
]
}
